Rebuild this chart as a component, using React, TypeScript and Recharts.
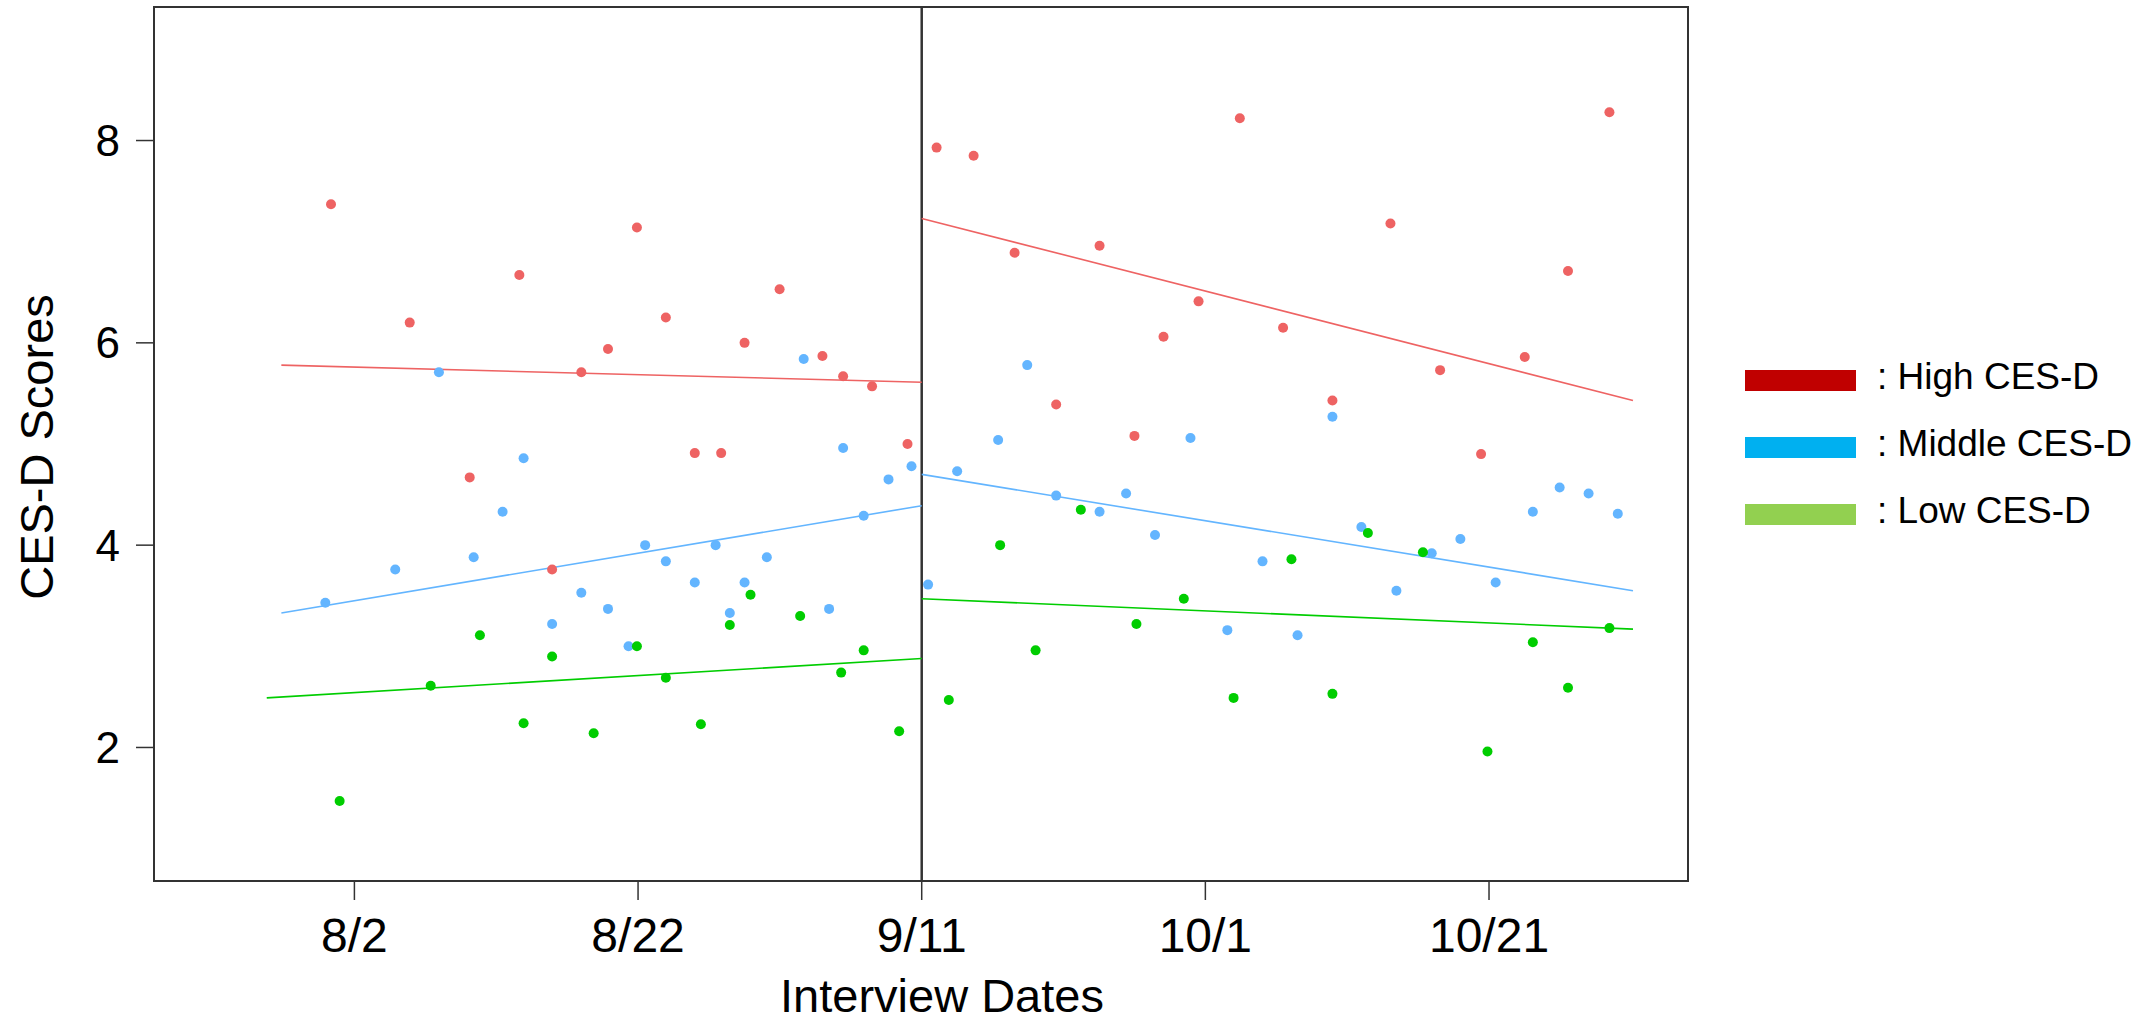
import {
  ComposedChart,
  Label,
  ReferenceArea,
  ReferenceLine,
  Scatter,
  XAxis,
  YAxis,
} from "recharts";

// x values are days counted from 8/2; day 40 is 9/11
const DATE_TICKS = [0, 20, 40, 60, 80];
const DATE_LABELS = ["8/2", "8/22", "9/11", "10/1", "10/21"];
const SCORE_TICKS = [2, 4, 6, 8];
const CUTOFF_DAY = 40;

const X_DOMAIN: [number, number] = [-14.13, 94.03];
const Y_DOMAIN: [number, number] = [0.68, 9.32];

// [day, CES-D score]
const HIGH_POINTS: [number, number][] = [
  [-1.65, 7.37], [3.9, 6.2], [8.13, 4.67], [11.63, 6.67], [13.94, 3.76],
  [16.0, 5.71], [17.88, 5.94], [19.92, 7.14], [21.96, 6.25], [24.0, 4.91],
  [25.86, 4.91], [27.51, 6.0], [29.98, 6.53], [33.0, 5.87], [34.46, 5.67],
  [36.5, 5.57], [39.0, 5.0], [41.05, 7.93], [43.66, 7.85], [46.55, 6.89],
  [49.48, 5.39], [52.54, 6.96], [55.0, 5.08], [57.05, 6.06], [59.52, 6.41],
  [62.43, 8.22], [65.48, 6.15], [68.96, 5.43], [73.05, 7.18], [76.55, 5.73],
  [79.44, 4.9], [82.52, 5.86], [85.57, 6.71], [88.49, 8.28],
];

const MIDDLE_POINTS: [number, number][] = [
  [-2.05, 3.43], [2.88, 3.76], [5.96, 5.71], [8.41, 3.88], [10.45, 4.33],
  [11.93, 4.86], [13.94, 3.22], [16.0, 3.53], [17.88, 3.37], [19.33, 3.0],
  [20.5, 4.0], [21.96, 3.84], [24.0, 3.63], [25.47, 4.0], [26.47, 3.33],
  [27.51, 3.63], [29.08, 3.88], [31.68, 5.84], [33.47, 3.37], [34.46, 4.96],
  [35.91, 4.29], [37.66, 4.65], [39.28, 4.78], [40.45, 3.61], [42.5, 4.73],
  [45.39, 5.04], [47.44, 5.78], [49.48, 4.49], [52.54, 4.33], [54.41, 4.51],
  [56.45, 4.1], [58.95, 5.06], [61.55, 3.16], [64.03, 3.84], [66.5, 3.11],
  [68.96, 5.27], [71.0, 4.18], [73.47, 3.55], [75.96, 3.92], [77.98, 4.06],
  [80.47, 3.63], [83.09, 4.33], [84.98, 4.57], [87.02, 4.51], [89.08, 4.31],
];

const LOW_POINTS: [number, number][] = [
  [-1.04, 1.47], [5.38, 2.61], [8.85, 3.11], [11.93, 2.24], [13.94, 2.9],
  [16.87, 2.14], [19.92, 3.0], [21.96, 2.69], [24.43, 2.23], [26.47, 3.21],
  [27.93, 3.51], [31.43, 3.3], [34.32, 2.74], [35.91, 2.96], [38.41, 2.16],
  [41.91, 2.47], [45.53, 4.0], [48.03, 2.96], [51.22, 4.35], [55.14, 3.22],
  [58.48, 3.47], [61.99, 2.49], [66.07, 3.86], [68.96, 2.53], [71.46, 4.12],
  [75.34, 3.93], [79.89, 1.96], [83.09, 3.04], [85.57, 2.59], [88.49, 3.18],
];

// fitted lines, before and after 9/11: [start, end]
const HIGH_FIT_PRE: [number, number][] = [[-5.15, 5.78], [40, 5.61]];
const HIGH_FIT_POST: [number, number][] = [[40, 7.23], [90.15, 5.43]];
const MIDDLE_FIT_PRE: [number, number][] = [[-5.15, 3.33], [40, 4.39]];
const MIDDLE_FIT_POST: [number, number][] = [[40, 4.7], [90.15, 3.55]];
const LOW_FIT_PRE: [number, number][] = [[-6.18, 2.49], [40, 2.88]];
const LOW_FIT_POST: [number, number][] = [[40, 3.47], [90.15, 3.17]];

const LEGEND_LABELS = [": High CES-D", ": Middle CES-D", ": Low CES-D"];
const LEGEND_COLORS = ["#C00000", "#00B0F0", "#92D050"];

const FONT = '"Liberation Sans", Arial, Helvetica, sans-serif';
const AXIS = "#333333";

const GROUPS = [
  { key: "high", points: HIGH_POINTS, fits: [HIGH_FIT_PRE, HIGH_FIT_POST], color: "#EE6363" },
  { key: "middle", points: MIDDLE_POINTS, fits: [MIDDLE_FIT_PRE, MIDDLE_FIT_POST], color: "#63B5FF" },
  { key: "low", points: LOW_POINTS, fits: [LOW_FIT_PRE, LOW_FIT_POST], color: "#00CD00" },
];

const toRows = (pts: [number, number][]) =>
  pts.map(([day, score]) => ({ day, score }));

function XTitle({ viewBox }: any) {
  return (
    <text
      x={viewBox.x + viewBox.width / 2 + 21}
      y={viewBox.y + viewBox.height - 10}
      textAnchor="middle"
      fontSize={47}
      fontFamily={FONT}
      fill="#000"
    >
      Interview Dates
    </text>
  );
}

function YTitle({ viewBox }: any) {
  const cx = viewBox.x + 53;
  const cy = viewBox.y + viewBox.height / 2 + 3;
  return (
    <text
      transform={`translate(${cx}, ${cy}) rotate(-90)`}
      textAnchor="middle"
      fontSize={47}
      fontFamily={FONT}
      fill="#000"
    >
      CES-D Scores
    </text>
  );
}

export default function App() {
  return (
    <div
      style={{
        position: "absolute",
        left: 0,
        top: 0,
        width: 2139,
        height: 1022,
        background: "#fff",
        fontFamily: FONT,
      }}
    >
      <ComposedChart
        width={2139}
        height={1022}
        margin={{ top: 7, right: 451, bottom: 0, left: 0 }}
      >
        <XAxis
          type="number"
          dataKey="day"
          domain={X_DOMAIN}
          allowDataOverflow
          ticks={DATE_TICKS}
          interval={0}
          tickFormatter={(v: number) => DATE_LABELS[DATE_TICKS.indexOf(v)] ?? ""}
          height={141}
          tickSize={19}
          tickMargin={18}
          axisLine={false}
          tickLine={{ stroke: AXIS, strokeWidth: 1.5 }}
          tick={{ fontSize: 48, fill: "#000", fontFamily: FONT }}
        >
          <Label content={XTitle} />
        </XAxis>
        <YAxis
          type="number"
          dataKey="score"
          domain={Y_DOMAIN}
          allowDataOverflow
          ticks={SCORE_TICKS}
          interval={0}
          width={154}
          tickSize={18}
          tickMargin={16}
          axisLine={false}
          tickLine={{ stroke: AXIS, strokeWidth: 1.5 }}
          tick={{ fontSize: 44, fill: "#000", fontFamily: FONT }}
        >
          <Label content={YTitle} />
        </YAxis>

        <ReferenceArea
          x1={X_DOMAIN[0]}
          x2={X_DOMAIN[1]}
          y1={Y_DOMAIN[0]}
          y2={Y_DOMAIN[1]}
          fill="none"
          stroke={AXIS}
          strokeWidth={2}
          ifOverflow="visible"
        />
        <ReferenceLine x={CUTOFF_DAY} stroke={AXIS} strokeWidth={2.5} />

        {GROUPS.flatMap((g) =>
          g.fits.map((fit, i) => (
            <ReferenceLine
              key={`${g.key}-fit-${i}`}
              segment={fit.map(([x, y]) => ({ x, y }))}
              stroke={g.color}
              strokeWidth={1.6}
              ifOverflow="visible"
            />
          ))
        )}

        {GROUPS.map((g) => (
          <Scatter
            key={g.key}
            name={g.key}
            data={toRows(g.points)}
            fill={g.color}
            isAnimationActive={false}
            shape={(p: any) => <circle cx={p.cx} cy={p.cy} r={5} fill={g.color} />}
          />
        ))}
      </ComposedChart>

      {LEGEND_LABELS.map((label, i) => (
        <div
          key={label}
          style={{
            position: "absolute",
            left: 1745,
            top: 370 + i * 67,
            height: 21,
            display: "flex",
            alignItems: "center",
            whiteSpace: "nowrap",
          }}
        >
          <div style={{ width: 111, height: 21, background: LEGEND_COLORS[i] }} />
          <span
            style={{
              marginLeft: 21,
              fontSize: 37,
              lineHeight: "21px",
              position: "relative",
              top: -4,
              color: "#000",
            }}
          >
            {label}
          </span>
        </div>
      ))}
    </div>
  );
}
